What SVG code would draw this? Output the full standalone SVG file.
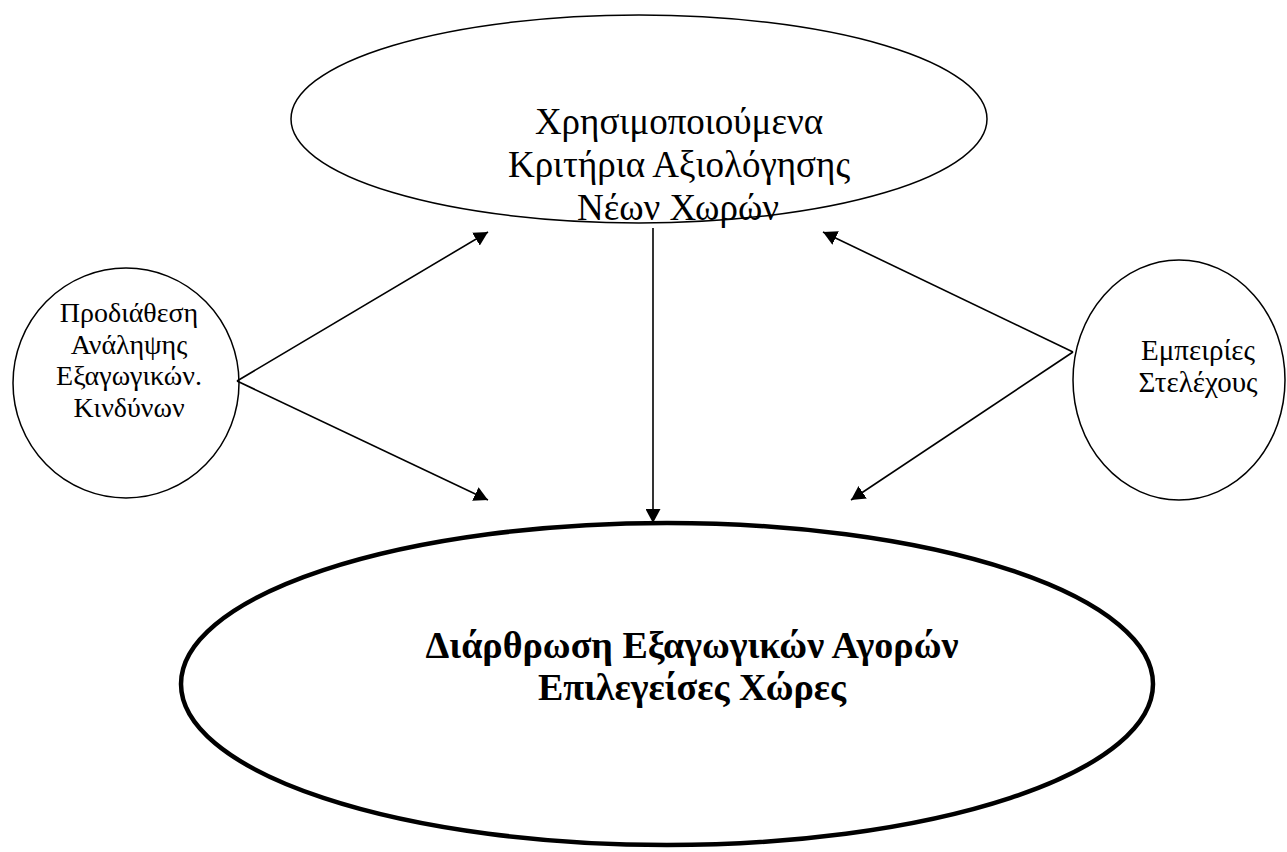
<svg xmlns="http://www.w3.org/2000/svg" width="1287" height="852" viewBox="0 0 1287 852">
<style>
.node{fill:#fff;stroke:#000;stroke-width:1.5}
.big{fill:#fff;stroke:#000;stroke-width:4.5}
.t{font-family:"Liberation Serif","Times New Roman",serif;fill:#000;text-anchor:middle}
.b{font-weight:bold}
.c{stroke:#000;stroke-width:1.6;fill:none}
</style>
<defs>
<marker id="ah" markerUnits="userSpaceOnUse" markerWidth="14" markerHeight="15" viewBox="0 0 14 15" refX="14" refY="7.5" orient="auto">
<path d="M0,0 L14,7.5 L0,15 z" fill="#000"/>
</marker>
</defs>
<rect width="1287" height="852" fill="#fff"/>
<g id="criteria">
<ellipse class="node" cx="639" cy="119" rx="348" ry="104"/>
<text class="t" font-size="37" x="679" y="134">Χρησιμοποιούμενα</text>
<text class="t" font-size="37" x="679" y="177">Κριτήρια Αξιολόγησης</text>
<text class="t" font-size="37" x="678" y="220">Νέων Χωρών</text>
</g>
<g id="risk">
<ellipse class="node" cx="126" cy="383" rx="113" ry="115"/>
<text class="t" font-size="28" x="129" y="322">Προδιάθεση</text>
<text class="t" font-size="28" x="129" y="354">Ανάληψης</text>
<text class="t" font-size="28" x="129" y="385">Εξαγωγικών.</text>
<text class="t" font-size="28" x="129" y="417">Κινδύνων</text>
</g>
<g id="experience">
<ellipse class="node" cx="1179" cy="380" rx="106" ry="120"/>
<text class="t" font-size="29" x="1198" y="360">Εμπειρίες</text>
<text class="t" font-size="29" x="1198" y="392">Στελέχους</text>
</g>
<g id="structure">
<ellipse class="big" cx="667" cy="684" rx="486" ry="161"/>
<text class="t b" font-size="38" x="692" y="658">Διάρθρωση Εξαγωγικών Αγορών</text>
<text class="t b" font-size="38" x="692" y="700">Επιλεγείσες Χώρες</text>
</g>
<g id="connectors">
<line class="c" x1="653" y1="228" x2="653" y2="523" marker-end="url(#ah)"/>
<line class="c" x1="237" y1="381" x2="488" y2="232" marker-end="url(#ah)"/>
<line class="c" x1="237" y1="381" x2="488" y2="500" marker-end="url(#ah)"/>
<line class="c" x1="1073" y1="352" x2="823" y2="232" marker-end="url(#ah)"/>
<line class="c" x1="1073" y1="352" x2="851" y2="500" marker-end="url(#ah)"/>
</g>
</svg>
